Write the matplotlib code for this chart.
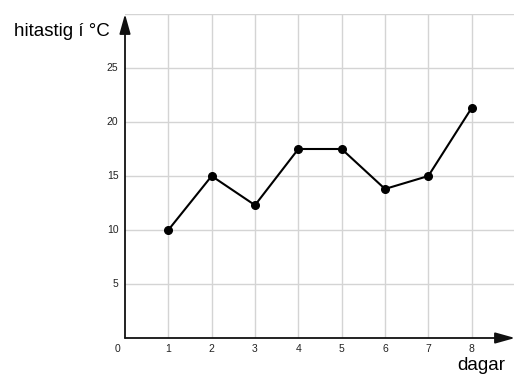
import matplotlib.pyplot as plt

plt.rcParams['font.family'] = ['Liberation Sans', 'DejaVu Sans']

days = [1, 2, 3, 4, 5, 6, 7, 8]
temps = [10, 15, 12.3, 17.5, 17.5, 13.8, 15, 21.3]
y_ticks = [5, 10, 15, 20, 25]

fig = plt.figure(figsize=(5.14, 3.74), dpi=100)
ax = fig.add_axes([125 / 514, 36 / 374, 390 / 514, 324 / 374])
ax.set_xlim(0, 9)
ax.set_ylim(0, 30)

# grid
for d in days:
    ax.axvline(d, color='#d4d4d4', lw=1, zorder=0)
for t in y_ticks + [30]:
    ax.axhline(t, color='#d4d4d4', lw=1, zorder=0)

for s in ax.spines.values():
    s.set_visible(False)
ax.set_xticks([])
ax.set_yticks([])

# axes with arrows
arrow = dict(arrowstyle='-|>,head_length=1.0,head_width=0.28', color='#111111',
             lw=1.3, mutation_scale=12, shrinkA=0, shrinkB=0)
ax.annotate('', xy=(9, 0), xytext=(0, 0), arrowprops=arrow, annotation_clip=False)
ax.annotate('', xy=(0, 30), xytext=(0, 0), arrowprops=arrow, annotation_clip=False)

ax.plot(days, temps, color='black', lw=1.5, marker='o', markersize=5.5,
        zorder=3, clip_on=False)

# tick labels
for d in days:
    ax.text(d, -1.0, str(d), ha='center', va='center', fontsize=7.5, color='#222222')
ax.text(-0.18, -1.0, '0', ha='center', va='center', fontsize=7.5, color='#222222')
for t in y_ticks:
    ax.text(-0.15, t, str(t), ha='right', va='center', fontsize=7.5, color='#222222')

fig.text(14 / 514, 1 - 32 / 374, 'hitastig í °C', ha='left', va='center', fontsize=13.5)
fig.text(505 / 514, 1 - 366 / 374, 'dagar', ha='right', va='center', fontsize=13.5)

fig.savefig('out.png', dpi=100)
